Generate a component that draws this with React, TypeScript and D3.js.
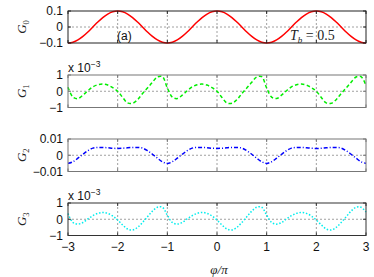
import React from "react";
import * as d3 from "d3";

const phi = d3.range(0, 61).map((i) => -3 + i * 0.1);
const xTicks = [-3, -2, -1, 0, 1, 2, 3];

const G0 = [
  -0.1, -0.095, -0.081, -0.059, -0.031, 0, 0.031, 0.059, 0.081, 0.095,
  0.1, 0.095, 0.081, 0.059, 0.031, 0, -0.031, -0.059, -0.081, -0.095,
  -0.1, -0.095, -0.081, -0.059, -0.031, 0, 0.031, 0.059, 0.081, 0.095,
  0.1, 0.095, 0.081, 0.059, 0.031, 0, -0.031, -0.059, -0.081, -0.095,
  -0.1, -0.095, -0.081, -0.059, -0.031, 0, 0.031, 0.059, 0.081, 0.095,
  0.1, 0.095, 0.081, 0.059, 0.031, 0, -0.031, -0.059, -0.081, -0.095,
  -0.1,
];

const G1 = [
  0.25, -0.36, -0.45, -0.24, 0.03, 0.27, 0.4, 0.44, 0.38, 0.22,
  0.0, -0.38, -0.72, -0.74, -0.52, -0.14, 0.2, 0.55, 0.88, 0.9,
  0.2, -0.36, -0.45, -0.24, 0.03, 0.27, 0.4, 0.44, 0.38, 0.22,
  0.0, -0.38, -0.72, -0.74, -0.52, -0.14, 0.2, 0.55, 0.88, 0.9,
  0.2, -0.36, -0.45, -0.24, 0.03, 0.27, 0.4, 0.44, 0.38, 0.22,
  0.0, -0.38, -0.72, -0.74, -0.52, -0.14, 0.2, 0.55, 0.88, 0.9,
  0.35,
];

const G2 = [
  -0.005, -0.004, -0.0018, 0.0006, 0.0028, 0.0044, 0.0048, 0.0048, 0.0046, 0.0043,
  0.0042, 0.0043, 0.0046, 0.0048, 0.0048, 0.0044, 0.0028, 0.0006, -0.0018, -0.004,
  -0.005, -0.004, -0.0018, 0.0006, 0.0028, 0.0044, 0.0048, 0.0048, 0.0046, 0.0043,
  0.0042, 0.0043, 0.0046, 0.0048, 0.0048, 0.0044, 0.0028, 0.0006, -0.0018, -0.004,
  -0.005, -0.004, -0.0018, 0.0006, 0.0028, 0.0044, 0.0048, 0.0048, 0.0046, 0.0043,
  0.0042, 0.0043, 0.0046, 0.0048, 0.0048, 0.0044, 0.0028, 0.0006, -0.0018, -0.004,
  -0.005,
];

const G3 = [
  0.35, -0.2, -0.3, -0.2, 0.02, 0.22, 0.36, 0.42, 0.36, 0.2,
  -0.05, -0.35, -0.6, -0.66, -0.5, -0.2, 0.15, 0.5, 0.74, 0.74,
  0.25, -0.2, -0.3, -0.2, 0.02, 0.22, 0.36, 0.42, 0.36, 0.2,
  -0.05, -0.35, -0.6, -0.66, -0.5, -0.2, 0.15, 0.5, 0.74, 0.74,
  0.25, -0.2, -0.3, -0.2, 0.02, 0.22, 0.36, 0.42, 0.36, 0.2,
  -0.05, -0.35, -0.6, -0.66, -0.5, -0.2, 0.15, 0.5, 0.74, 0.74,
  0.45,
];

const yTickLabels0 = ["−0.1", "0", "0.1"];
const yTickLabels1 = ["−1", "0", "1"];
const yTickLabels2 = ["−0.01", "0", "0.01"];
const yTickLabels3 = ["−1", "0", "1"];

const x0 = 68;
const x1 = 366;

type Panel = {
  name: string;
  sub: string;
  data: number[];
  max: number;
  labels: string[];
  top: number;
  bottom: number;
  color: string;
  dash: string | undefined;
  boxColor: string;
  exp: boolean;
};

const panels: Panel[] = [
  { name: "G", sub: "0", data: G0, max: 0.1, labels: yTickLabels0, top: 11, bottom: 43, color: "#ff0000", dash: undefined, boxColor: "#222", exp: false },
  { name: "G", sub: "1", data: G1, max: 1, labels: yTickLabels1, top: 75, bottom: 107.5, color: "#00ee00", dash: "3.5,2.5", boxColor: "#777", exp: true },
  { name: "G", sub: "2", data: G2, max: 0.01, labels: yTickLabels2, top: 139, bottom: 171.5, color: "#0000ff", dash: "4,2,1,2", boxColor: "#777", exp: false },
  { name: "G", sub: "3", data: G3, max: 1, labels: yTickLabels3, top: 203, bottom: 235.5, color: "#00eeee", dash: "1.5,1.8", boxColor: "#333", exp: true },
];

export default function App() {
  const x = d3.scaleLinear().domain([-3, 3]).range([x0, x1]);
  const font = "'Liberation Sans', Arial, sans-serif";
  const serif = "'Liberation Serif', 'Times New Roman', serif";
  return (
    <svg
      width={374}
      height={277}
      style={{ position: "absolute", left: 0, top: 0, background: "#fff" }}
    >
      {panels.map((p, pi) => {
        const y = d3.scaleLinear().domain([-p.max, p.max]).range([p.bottom, p.top]);
        const line = d3
          .line<number>()
          .x((_, i) => x(phi[i]))
          .y((d) => y(d))
          .curve(d3.curveCatmullRom.alpha(0.5));
        const yt = [-p.max, 0, p.max];
        const mid = (p.top + p.bottom) / 2;
        return (
          <g key={pi}>
            {xTicks.slice(1, -1).map((t) => (
              <line key={t} x1={x(t)} x2={x(t)} y1={p.top} y2={p.bottom} stroke="#888" strokeWidth={0.8} strokeDasharray="2,2" />
            ))}
            <line x1={x0} x2={x1} y1={y(0)} y2={y(0)} stroke="#888" strokeWidth={0.8} strokeDasharray="2,2" />
            <path d={line(p.data) || ""} fill="none" stroke={p.color} strokeWidth={1.5} strokeDasharray={p.dash} />
            <rect x={x0} y={p.top} width={x1 - x0} height={p.bottom - p.top} fill="none" stroke={p.boxColor} strokeWidth={1} />
            {xTicks.map((t) => (
              <g key={t}>
                <line x1={x(t)} x2={x(t)} y1={p.bottom} y2={p.bottom - 3} stroke={p.boxColor} />
                <line x1={x(t)} x2={x(t)} y1={p.top} y2={p.top + 3} stroke={p.boxColor} />
              </g>
            ))}
            {yt.map((t, i) => (
              <g key={i}>
                <line x1={x0} x2={x0 + 3} y1={y(t)} y2={y(t)} stroke={p.boxColor} />
                <line x1={x1} x2={x1 - 3} y1={y(t)} y2={y(t)} stroke={p.boxColor} />
                <text x={63} y={y(t) + 4.3} textAnchor="end" fontFamily={font} fontSize={12} fill="#111">
                  {p.labels[i]}
                </text>
              </g>
            ))}
            <text
              transform={`translate(26,${mid}) rotate(-90)`}
              textAnchor="middle"
              fontFamily={serif}
              fontSize={13}
              fill="#222"
            >
              <tspan fontStyle="italic">{p.name}</tspan>
              <tspan fontSize={8.5} dy={3}>{p.sub}</tspan>
            </text>
            {p.exp && (
              <text x={68} y={p.top - 3} fontFamily={font} fontSize={12} fill="#111">
                x 10
                <tspan fontSize={8.5} dy={-5}>−3</tspan>
              </text>
            )}
          </g>
        );
      })}
      {xTicks.map((t) => (
        <text key={t} x={x(t)} y={251} textAnchor="middle" fontFamily={font} fontSize={12} fill="#111">
          {t < 0 ? `−${-t}` : `${t}`}
        </text>
      ))}
      <text x={219} y={274} textAnchor="middle" fontFamily={serif} fontSize={13} fontStyle="italic" fill="#222">
        φ/π
      </text>
      <text x={117} y={39.5} fontFamily={font} fontSize={12} fill="#111">(a)</text>
      <text x={290} y={40} fontFamily={serif} fontSize={14} fill="#222">
        <tspan fontStyle="italic">T</tspan>
        <tspan fontSize={9} dy={3} fontStyle="italic">b</tspan>
        <tspan dy={-3}> = 0.5</tspan>
      </text>
    </svg>
  );
}
